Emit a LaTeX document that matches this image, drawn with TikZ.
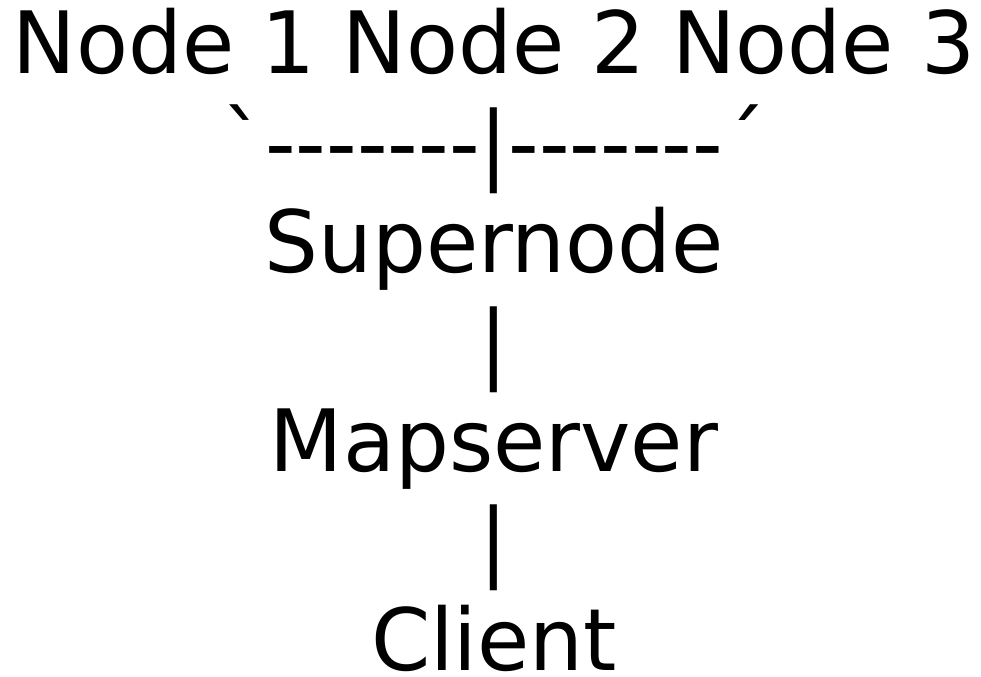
\documentclass[tikz,border=0pt]{standalone}
\usepackage{fontspec}
\newfontfamily\dvsans{DejaVu Sans}[FakeStretch=0.988]
\begin{document}
\begin{tikzpicture}[x=0.75pt,y=-0.75pt,
	txt/.style={anchor=base,inner sep=0pt,font=\dvsans\fontsize{64.5}{77}\selectfont}]
	\useasboundingbox (0,0) rectangle (981,677);
	\node[txt] (nodes) at (494,74) {Node 1 Node 2 Node 3};
	\node[txt] (fan) at (494,173.3) {`-------|-------´};
	\node[txt] (super) at (494,272.7) {Supernode};
	\node[txt] (bara) at (494,372) {|};
	\node[txt] (map) at (494,471.3) {Mapserver};
	\node[txt] (barb) at (494,570.7) {|};
	\node[txt] (client) at (494,670) {Client};
\end{tikzpicture}
\end{document}
